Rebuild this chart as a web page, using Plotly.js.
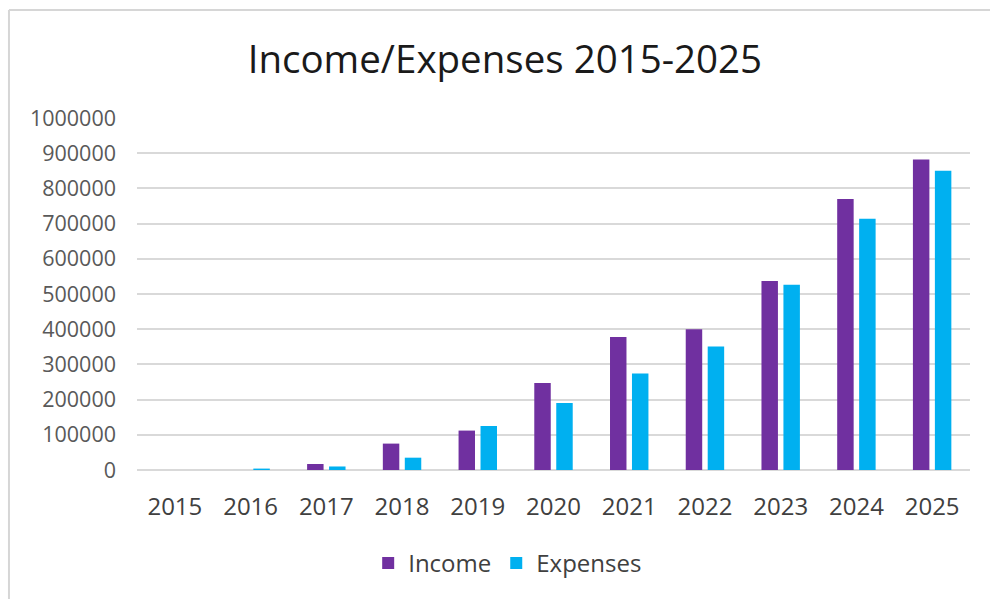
<!DOCTYPE html>
<html>
<head>
<meta charset="utf-8">
<script src="https://cdn.plot.ly/plotly-3.0.1.min.js"></script>
<style>
  html, body { margin: 0; padding: 0; background: #fff; overflow: hidden; }
  #chart { width: 990px; height: 599px; }
</style>
</head>
<body>
<div id="chart"></div>
<script>
const years = ["2015","2016","2017","2018","2019","2020","2021","2022","2023","2024","2025"];
const income = [0, 0, 17000, 75000, 112000, 247000, 378000, 400000, 537000, 770000, 882000];
const expenses = [0, 4000, 10000, 35000, 125000, 190000, 274000, 351000, 526000, 714000, 850000];

const fontFam = '"Open Sans", "Noto Sans", sans-serif';

const data = [
  { type: 'bar', name: 'Income', x: years, y: income, marker: { color: '#7030A0' }, hoverinfo: 'x+y' },
  { type: 'bar', name: 'Expenses', x: years, y: expenses, marker: { color: '#00B0F0' }, hoverinfo: 'x+y' }
];

// chart-area frame (left and top edges), in paper units relative to the plot domain
const frameColor = '#d6d6d6';
const layout = {
  width: 990, height: 599,
  paper_bgcolor: '#ffffff', plot_bgcolor: '#ffffff',
  margin: { l: 137, r: 20, t: 118, b: 129, pad: 0 },
  title: { text: 'Income/Expenses 2015-2025', x: 0.51, xanchor: 'center', y: 0.9, yanchor: 'middle',
           font: { family: fontFam, size: 38.5, color: '#1a1a1a' } },
  barmode: 'group', bargap: 0.42, bargroupgap: 0.25,
  xaxis: { type: 'category', showgrid: false, zeroline: false, showline: false, ticks: '',
           tickfont: { family: fontFam, size: 24, color: '#404040' }, ticklabelstandoff: 20 },
  yaxis: { range: [0, 1000000], dtick: 100000, tick0: 0, showgrid: true, gridcolor: '#d9d9d9', gridwidth: 2,
           zeroline: true, zerolinecolor: '#d9d9d9', zerolinewidth: 2, showline: false, ticks: '',
           tickformat: 'd', tickfont: { family: fontFam, size: 21.5, color: '#595959' }, ticklabelstandoff: 20 },
  showlegend: true,
  legend: { orientation: 'h', x: 0.445, xanchor: 'center', y: -0.265, yanchor: 'middle',
            font: { family: fontFam, size: 24, color: '#404040' }, itemwidth: 30, traceorder: 'normal' },
  shapes: [
    { type: 'line', xref: 'paper', yref: 'paper', x0: -0.1537, x1: -0.1537, y0: 1.307, y1: -0.4,
      line: { color: frameColor, width: 2 } },
    { type: 'line', xref: 'paper', yref: 'paper', x0: -0.1537, x1: 1.03, y0: 1.307, y1: 1.307,
      line: { color: frameColor, width: 2 } }
  ]
};

Plotly.newPlot('chart', data, layout, { displayModeBar: false, staticPlot: true });
</script>
</body>
</html>
